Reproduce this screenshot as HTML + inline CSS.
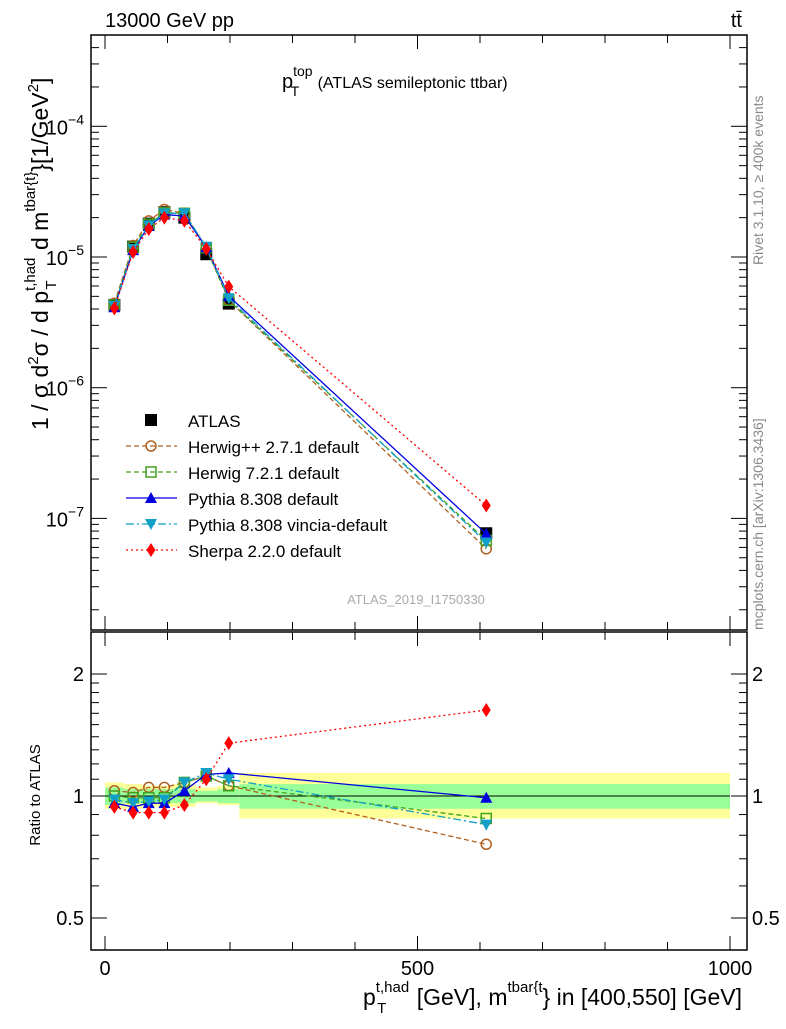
<!DOCTYPE html>
<html><head><meta charset="utf-8"><style>
body{margin:0;background:#fff;}
svg{font-family:"Liberation Sans",sans-serif;}
</style></head><body>
<svg id="c" width="786" height="1024" xmlns="http://www.w3.org/2000/svg">
<text x="105" y="27" font-size="20">13000 GeV pp</text>
<text x="742" y="27" font-size="20" text-anchor="end">tt̄</text>
<text x="282" y="88" font-size="20">p<tspan font-size="14" dy="-12">top</tspan><tspan font-size="14" dx="-22" dy="20">T</tspan><tspan font-size="16" dx="14" dy="-8"> (ATLAS semileptonic ttbar)</tspan></text>
<text x="416" y="604" font-size="13" fill="#aaa" text-anchor="middle">ATLAS_2019_I1750330</text>
<text transform="translate(763,265) rotate(-90)" font-size="14" fill="#888">Rivet 3.1.10, ≥ 400k events</text>
<text transform="translate(763,630) rotate(-90)" font-size="14" fill="#888">mcplots.cern.ch [arXiv:1306.3436]</text>
<text transform="translate(48,430) rotate(-90)" font-size="23">1 / σ d<tspan font-size="15" dy="-10">2</tspan><tspan dy="10">σ / d p</tspan><tspan font-size="15" dy="-13">t,had</tspan><tspan font-size="15" dx="-32" dy="21">T</tspan><tspan dx="24" dy="-8"> d m</tspan><tspan font-size="15" dy="-13">tbar{t}</tspan><tspan dy="13">}[1/GeV</tspan><tspan font-size="15" dy="-10">2</tspan><tspan dy="10">]</tspan></text>
<text transform="translate(40,795) rotate(-90)" font-size="15" text-anchor="middle">Ratio to ATLAS</text>
<text x="742" y="1005" font-size="23" text-anchor="end">p<tspan font-size="15" dy="-13">t,had</tspan><tspan font-size="15" dx="-32" dy="21">T</tspan><tspan dx="24" dy="-8"> [GeV], m</tspan><tspan font-size="15" dy="-13">tbar{t</tspan><tspan dy="13">} in [400,550] [GeV]</tspan></text>
<g id="bands"></g><g id="axes"></g><g id="series"></g><g id="legend"></g>
</svg>
<script>
const xCenters=[15,45,70,95,127,162,198,610];
const binEdges=[0,30,60,80,110,145,180,215,1000];
const atlas=[4.3e-6,1.2e-5,1.8e-5,2.2e-5,2.0e-5,1.05e-5,4.4e-6,7.7e-8];
const yellowHi=[1.08,1.07,1.06,1.06,1.07,1.05,1.06,1.14];
const yellowLo=[0.93,0.93,0.94,0.94,0.94,0.96,0.95,0.88];
const greenHi=[1.05,1.04,1.04,1.04,1.04,1.03,1.04,1.07];
const greenLo=[0.95,0.96,0.96,0.96,0.96,0.97,0.96,0.93];
const rHerwigpp=[1.03,1.02,1.05,1.05,1.08,1.12,1.06,0.76];
const rHerwig7=[1.0,0.99,0.99,0.99,1.08,1.12,1.06,0.88];
const rPythia=[0.96,0.94,0.96,0.96,1.03,1.13,1.14,0.99];
const rVincia=[0.98,0.96,0.97,0.98,1.08,1.14,1.10,0.85];
const rSherpa=[0.94,0.91,0.91,0.91,0.95,1.10,1.35,1.63];
const xTicks=[0,500,1000];
const yTicks=[1e-7,1e-6,1e-5,1e-4];
const yTickLabels=["10","10","10","10"];
const yTickExp=["−7","−6","−5","−4"];
const rTicks=[0.5,1,2];
const rTickLabels=["0.5","1","2"];

const NS="http://www.w3.org/2000/svg";
const X=v=>105+v*0.625;
const Y=v=>257-Math.log10(v/1e-5)*130.7;
const R=v=>796-Math.log2(v)*122;
const L=91,Rt=747,T=35,B=630,RT=632,RB=950;
function el(tag,attrs,parent){const e=document.createElementNS(NS,tag);for(const k in attrs)e.setAttribute(k,attrs[k]);parent.appendChild(e);return e;}
const bands=document.getElementById('bands'),axes=document.getElementById('axes'),ser=document.getElementById('series'),leg=document.getElementById('legend');
for(let i=0;i<atlas.length;i++){
 let x0=X(binEdges[i]),x1=X(binEdges[i+1]);
 let b=el('rect',{x:x0,y:R(yellowHi[i]),width:x1-x0,height:R(yellowLo[i])-R(yellowHi[i]),fill:'#ffff99'},bands);
 
 
 let g=el('rect',{x:x0,y:R(greenHi[i]),width:x1-x0,height:R(greenLo[i])-R(greenHi[i]),fill:'#99ff99'},bands);
 
 
}
el('line',{x1:X(0),x2:X(1000),y1:R(1),y2:R(1),stroke:'#000','stroke-width':1},bands);
el('rect',{x:L,y:T,width:Rt-L,height:B-T,fill:'none',stroke:'#000','stroke-width':1.5},axes);
el('rect',{x:L,y:RT,width:Rt-L,height:RB-RT,fill:'none',stroke:'#000','stroke-width':1.5},axes);
for(let v=0;v<=1000;v+=100){const big=v%500===0;const l=big?14:8;
 for(const [y0,y1] of [[B,B-l],[T,T+l],[RB,RB-l],[RT,RT+l]])el('line',{x1:X(v),x2:X(v),y1:y0,y2:y1,stroke:'#000'},axes);}
xTicks.forEach(v=>{const t=el('text',{x:X(v),y:975,'font-size':20,'text-anchor':'middle'},axes);t.textContent=v;
 
 });
for(let e=-9;e<=-3;e++)for(let m=1;m<10;m++){const v=m*Math.pow(10,e);const y=Y(v);if(y<T||y>B)continue;const l=m===1?16:8;
 el('line',{x1:L,x2:L+l,y1:y,y2:y,stroke:'#000'},axes);el('line',{x1:Rt,x2:Rt-l,y1:y,y2:y,stroke:'#000'},axes);}
yTicks.forEach((v,i)=>{const t=el('text',{x:84,y:Y(v)+8,'font-size':20,'text-anchor':'end'},axes);
 t.innerHTML=yTickLabels[i]+'<tspan font-size="14" dy="-10">'+yTickExp[i]+'</tspan>';
 
 });
[0.5,0.6,0.7,0.8,0.9,1,1.1,1.2,1.3,1.4,1.5,1.6,1.7,1.8,1.9,2].forEach(v=>{const y=R(v);const l=(v===0.5||v===1||v===2)?16:8;
 el('line',{x1:L,x2:L+l,y1:y,y2:y,stroke:'#000'},axes);el('line',{x1:Rt,x2:Rt-l,y1:y,y2:y,stroke:'#000'},axes);});
rTicks.forEach((v,i)=>{for(const [x,a] of [[84,'end'],[752,'start']]){const t=el('text',{x:x,y:R(v)+7,'font-size':20,'text-anchor':a},axes);t.textContent=rTickLabels[i];
 
 }});
function marker(type,x,y,c,p){
 if(type==='sq')return el('rect',{x:x-6,y:y-6,width:12,height:12,fill:c},p);
 if(type==='osq')return el('rect',{x:x-5,y:y-5,width:10,height:10,fill:'none',stroke:c,'stroke-width':1.5},p);
 if(type==='oc')return el('circle',{cx:x,cy:y,r:5,fill:'none',stroke:c,'stroke-width':1.5},p);
 if(type==='tu')return el('polygon',{points:`${x-6},${y+5} ${x+6},${y+5} ${x},${y-6}`,fill:c},p);
 if(type==='td')return el('polygon',{points:`${x-6},${y-5} ${x+6},${y-5} ${x},${y+6}`,fill:c},p);
 if(type==='dm')return el('polygon',{points:`${x},${y-7} ${x+4.5},${y} ${x},${y+7} ${x-4.5},${y}`,fill:c},p);
}
const models=[
 {r:rHerwigpp,c:'#b06020',d:'5,3',m:'oc',n:'Herwig++ 2.7.1 default',id:'herwigpp'},
 {r:rHerwig7,c:'#40a020',d:'5,3',m:'osq',n:'Herwig 7.2.1 default',id:'herwig7'},
 {r:rPythia,c:'#0000e0',d:'',m:'tu',n:'Pythia 8.308 default',id:'pythia'},
 {r:rVincia,c:'#10a0c8',d:'8,3,2,3',m:'td',n:'Pythia 8.308 vincia-default',id:'vincia'},
 {r:rSherpa,c:'#ff0000',d:'2,3',m:'dm',n:'Sherpa 2.2.0 default',id:'sherpa'}];
atlas.forEach((v,i)=>{const m=marker('sq',X(xCenters[i]),Y(v),'#000',ser);
 
 });
models.forEach(md=>{
 const pm=xCenters.map((x,i)=>X(x)+','+Y(atlas[i]*md.r[i])).join(' ');
 const pr=xCenters.map((x,i)=>X(x)+','+R(md.r[i])).join(' ');
 const l1=el('polyline',{points:pm,fill:'none',stroke:md.c,'stroke-width':1.3,'stroke-dasharray':md.d},ser);
 
 
 const l2=el('polyline',{points:pr,fill:'none',stroke:md.c,'stroke-width':1.3,'stroke-dasharray':md.d},ser);
 
 
 xCenters.forEach((x,i)=>{const a=marker(md.m,X(x),Y(atlas[i]*md.r[i]),md.c,ser);
  
  
  const b=marker(md.m,X(x),R(md.r[i]),md.c,ser);
  
  });
});
const lm=marker('sq',151,420,'#000',leg);


const lt=el('text',{x:188,y:427,'font-size':17},leg);lt.textContent='ATLAS';


models.forEach((md,i)=>{const y=446+26*i;
 el('line',{x1:126,x2:177,y1:y,y2:y,stroke:md.c,'stroke-width':1.3,'stroke-dasharray':md.d},leg);
 marker(md.m,151,y,md.c,leg);
 const t=el('text',{x:188,y:y+7,'font-size':17},leg);t.textContent=md.n;
 
 });
</script>
</body></html>
